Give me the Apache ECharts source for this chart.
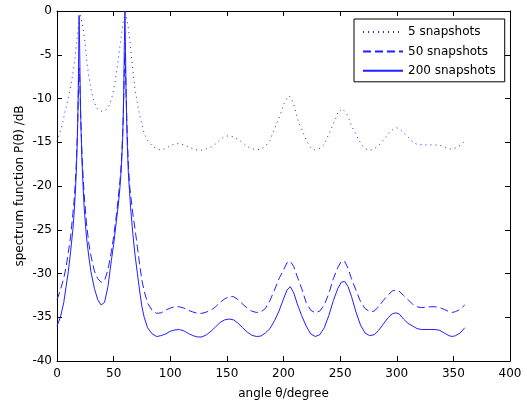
<!DOCTYPE html>
<html>
<head>
<meta charset="utf-8">
<script src="https://cdn.jsdelivr.net/npm/echarts@6/dist/echarts.min.js"></script>
<style>
html,body{margin:0;padding:0;background:#fff;}
#chart{width:527px;height:405px;}
</style>
</head>
<body>
<div id="chart"></div>
<script>
// ---- data ----
var seriesNames = ['5 snapshots', '50 snapshots', '200 snapshots'];

var angle5 = [0,4,8,11,14,16,17.5,19,20.5,22,23.5,25,26.5,28,30,32,34,36,39,42,45,47,49,51,53,55,57,58.5,60.5,62.5,64,65.5,67,68.5,70,72,74,77,80,84,88,92,96,100,104,108,112,116,120,124,128,132,136,140,144,148,152,156,160,164,168,172,176,180,184,188,191,194,197,200,203,205,207,209,211,213,215,217,219,221,224,228,232,236,238,240,242,244,246,248,252,256,258,260,262,264,266,268,272,277,282,286,290,294,298,300,302,306,310,314,318,324,332,338,344,348,352,356,360];
var p5 = [-14.9,-13.3,-11.05,-9.3,-7.2,-5.3,-3.4,-1.6,-0.4,-1.3,-2.4,-4.0,-5.9,-7.4,-8.9,-10.0,-10.8,-11.25,-11.45,-11.45,-11.1,-10.5,-9.6,-8.3,-6.6,-4.6,-2.6,-1.2,-0.2,-1.5,-3.0,-5.0,-6.8,-8.6,-9.8,-11.2,-12.5,-14.0,-14.8,-15.4,-15.75,-15.9,-15.7,-15.4,-15.2,-15.15,-15.3,-15.5,-15.75,-15.9,-15.9,-15.75,-15.55,-15.2,-14.7,-14.35,-14.25,-14.4,-14.7,-15.05,-15.5,-15.75,-15.85,-15.8,-15.45,-14.8,-13.8,-12.9,-11.9,-10.7,-10.0,-9.7,-10.0,-10.7,-11.6,-12.6,-13.2,-13.8,-14.4,-15.0,-15.6,-15.9,-15.7,-15.25,-14.6,-14.1,-13.5,-12.9,-12.3,-11.6,-11.15,-11.8,-12.4,-13.1,-13.6,-14.1,-14.6,-15.1,-15.75,-15.9,-15.6,-15.1,-14.45,-13.8,-13.4,-13.35,-13.45,-13.9,-14.4,-14.95,-15.25,-15.3,-15.3,-15.35,-15.6,-15.8,-15.65,-15.35,-14.9];

var angleHi = [0,3,6,8,10,12,14,15,16,17,18,18.5,19,19.5,20,20.5,21,22,23,24,26,28,30,33,36,39,42,45,48,50,52,54,55,56,57,58,58.5,59,59.5,60,60.5,61,62,63,64,65,67,69,71,73,75,77,80,84,88,92,96,100,104,108,112,116,120,124,128,132,136,140,144,148,152,156,160,164,168,172,176,180,184,188,192,196,200,203,206,209,212,216,220,224,228,232,236,240,244,248,251,254,257,260,264,268,272,276,280,284,288,292,296,299,302,306,310,314,318,322,326,330,334,338,342,346,349,352,356,360];

var p50 = [-33.0,-31.9,-30.5,-29.3,-27.6,-25.8,-23.2,-21.8,-20.0,-17.5,-14.0,-11.5,-8.5,-6.5,-7.5,-10.0,-12.5,-16.0,-18.8,-21.0,-24.2,-26.5,-28.0,-29.7,-30.6,-31.0,-30.8,-29.6,-27.5,-25.8,-23.8,-21.5,-20.2,-18.8,-16.8,-14.0,-12.0,-9.5,-6.5,-4.8,-6.5,-9.5,-14.0,-17.5,-19.8,-21.0,-23.2,-25.0,-27.0,-29.0,-30.8,-32.0,-33.4,-34.2,-34.55,-34.5,-34.2,-33.95,-33.8,-33.8,-33.95,-34.2,-34.4,-34.55,-34.55,-34.4,-34.2,-33.8,-33.3,-32.9,-32.65,-32.65,-33.0,-33.5,-33.95,-34.3,-34.45,-34.4,-34.0,-33.1,-31.9,-30.6,-29.6,-28.8,-28.6,-29.2,-30.3,-31.7,-33.3,-34.2,-34.5,-34.3,-33.6,-32.3,-30.6,-29.3,-28.6,-28.6,-29.4,-30.6,-31.9,-33.2,-34.0,-34.35,-34.3,-33.8,-33.1,-32.5,-32.0,-31.9,-32.0,-32.5,-33.0,-33.5,-33.8,-33.9,-33.85,-33.8,-33.8,-33.9,-34.1,-34.35,-34.45,-34.35,-34.1,-33.6];

var p200 = [-36.0,-35.0,-33.3,-31.5,-29.8,-27.5,-25.0,-23.3,-21.2,-18.5,-14.5,-11.5,-6.5,-0.5,-4.0,-9.0,-12.5,-17.0,-20.0,-22.5,-25.8,-28.0,-29.8,-31.7,-33.0,-33.6,-33.3,-31.5,-28.5,-26.7,-24.5,-22.3,-21.0,-19.5,-17.5,-14.5,-12.0,-8.5,-3.5,0.0,-4.5,-9.5,-15.0,-18.5,-20.5,-22.5,-25.5,-28.0,-30.0,-32.0,-33.8,-35.0,-36.2,-36.9,-37.2,-37.1,-36.9,-36.6,-36.45,-36.4,-36.55,-36.85,-37.1,-37.25,-37.25,-37.0,-36.6,-36.1,-35.6,-35.3,-35.2,-35.3,-35.7,-36.2,-36.7,-37.05,-37.2,-37.15,-36.8,-36.3,-35.4,-34.3,-32.9,-31.9,-31.5,-32.2,-33.4,-34.8,-36.0,-36.9,-37.2,-37.0,-36.2,-34.8,-33.1,-31.7,-31.0,-30.9,-31.5,-32.6,-34.4,-35.9,-36.8,-37.1,-37.0,-36.5,-35.8,-35.1,-34.6,-34.5,-34.6,-35.2,-35.7,-36.0,-36.3,-36.4,-36.4,-36.4,-36.4,-36.5,-36.8,-37.1,-37.2,-37.1,-36.8,-36.2];

var xTicks = {min: 0, max: 400, interval: 50};
var yTicks = {min: -40, max: 0, interval: 5};

function zip(xs, ys) {
  var out = [];
  for (var i = 0; i < xs.length; i++) out.push([xs[i], ys[i]]);
  return out;
}

var FONT = 'DejaVu Sans';
var LINE = '#1f1fff';
var chart = echarts.init(document.getElementById('chart'), null, {renderer: 'canvas'});

function axisBase(extra) {
  var a = {
    type: 'value',
    axisLine: {show: true, onZero: false, lineStyle: {color: '#000', width: 1}},
    axisTick: {show: true, inside: true, length: 5, lineStyle: {color: '#000'}},
    splitLine: {show: false},
    axisLabel: {show: true, color: '#000', fontFamily: FONT, fontSize: 12},
    nameTextStyle: {color: '#000', fontFamily: FONT, fontSize: 12}
  };
  for (var k in extra) a[k] = extra[k];
  return a;
}

var option = {
  backgroundColor: '#fff',
  animation: false,
  grid: {left: 57, top: 11, width: 453, height: 350, containLabel: false},
  xAxis: [
    axisBase({position: 'bottom', min: xTicks.min, max: xTicks.max, interval: xTicks.interval,
      name: 'angle \u03B8/degree', nameLocation: 'middle', nameGap: 27, nameMoveOverlap: false,
      axisLabel: {show: true, color: '#000', fontFamily: FONT, fontSize: 12, margin: 7}}),
    axisBase({position: 'top', min: xTicks.min, max: xTicks.max, interval: xTicks.interval,
      axisLabel: {show: false}})
  ],
  yAxis: [
    axisBase({position: 'left', min: yTicks.min, max: yTicks.max, interval: yTicks.interval,
      name: 'spectrum function P(\u03B8) /dB', nameLocation: 'middle', nameGap: 31, nameMoveOverlap: false,
      axisLabel: {show: true, color: '#000', fontFamily: FONT, fontSize: 12, margin: 5}}),
    axisBase({position: 'right', min: yTicks.min, max: yTicks.max, interval: yTicks.interval,
      axisLabel: {show: false}})
  ],
  legend: {
    show: true,
    orient: 'vertical',
    left: 354, top: 19,
    padding: [7, 9, 5, 8],
    itemWidth: 40, itemHeight: 12, itemGap: 7.4,
    borderColor: '#000', borderWidth: 1, backgroundColor: '#fff',
    itemStyle: {opacity: 0, borderWidth: 0},
    textStyle: {color: '#000', fontFamily: FONT, fontSize: 12},
    data: seriesNames
  },
  series: [
    {
      name: seriesNames[0], type: 'line', xAxisIndex: 0, yAxisIndex: 0,
      data: zip(angle5, p5), symbol: 'none', showSymbol: false, smooth: false,
      lineStyle: {color: LINE, width: 1, type: [1, 4]},
      itemStyle: {color: LINE}, clip: true
    },
    {
      name: seriesNames[1], type: 'line', xAxisIndex: 0, yAxisIndex: 0,
      data: zip(angleHi, p50), symbol: 'none', showSymbol: false, smooth: false,
      lineStyle: {color: LINE, width: 1, type: [8, 4]},
      itemStyle: {color: LINE}, clip: true
    },
    {
      name: seriesNames[2], type: 'line', xAxisIndex: 0, yAxisIndex: 0,
      data: zip(angleHi, p200), symbol: 'none', showSymbol: false, smooth: false,
      lineStyle: {color: LINE, width: 1, type: 'solid'},
      itemStyle: {color: LINE}, clip: true
    }
  ]
};
chart.setOption(option);
</script>
</body>
</html>
